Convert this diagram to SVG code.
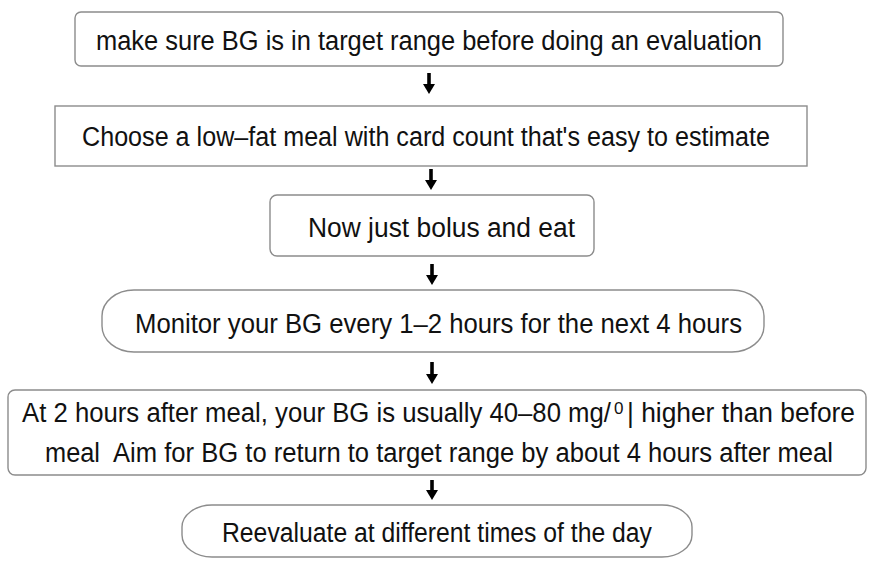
<svg xmlns="http://www.w3.org/2000/svg" width="873" height="561" viewBox="0 0 873 561">
<style>
.box{fill:#ffffff;stroke:#8c8c8c;stroke-width:1.4}
.t{font-family:"Liberation Sans",Arial,sans-serif;font-size:27px;fill:#111111}
.sup{font-family:"Liberation Sans",Arial,sans-serif;font-size:17px;fill:#111111}
.shaft{stroke:#000000;stroke-width:3.6;fill:none}
.head{fill:#000000}
</style>
<rect width="873" height="561" fill="#ffffff"/>
<g id="connectors">
<line class="shaft" x1="429" y1="73" x2="429" y2="86"/>
<path class="head" d="M423,84 L435,84 L429,94 Z"/>
<line class="shaft" x1="431" y1="169" x2="431" y2="182"/>
<path class="head" d="M425,180 L437,180 L431,190 Z"/>
<line class="shaft" x1="432" y1="264" x2="432" y2="277"/>
<path class="head" d="M426,275 L438,275 L432,285 Z"/>
<line class="shaft" x1="432" y1="362" x2="432" y2="376"/>
<path class="head" d="M426,374 L438,374 L432,384 Z"/>
<line class="shaft" x1="432" y1="480" x2="432" y2="492"/>
<path class="head" d="M426,490 L438,490 L432,500 Z"/>
</g>
<g id="n1">
<rect class="box" x="75" y="12" width="708" height="54" rx="6"/>
<text class="t" x="96" y="50" textLength="666" lengthAdjust="spacingAndGlyphs">make sure BG is in target range before doing an evaluation</text>
</g>
<g id="n2">
<rect class="box" x="55" y="106" width="752" height="60"/>
<text class="t" x="82" y="146" textLength="688" lengthAdjust="spacingAndGlyphs">Choose a low–fat meal with card count that's easy to estimate</text>
</g>
<g id="n3">
<rect class="box" x="270" y="195" width="324" height="61" rx="7"/>
<text class="t" x="308" y="237" textLength="267" lengthAdjust="spacingAndGlyphs">Now just bolus and eat</text>
</g>
<g id="n4">
<rect class="box" x="102" y="290" width="662" height="62" rx="32" ry="26"/>
<text class="t" x="135" y="333" textLength="607" lengthAdjust="spacingAndGlyphs">Monitor your BG every 1–2 hours for the next 4 hours</text>
</g>
<g id="n5">
<rect class="box" x="8" y="390" width="858" height="85" rx="7"/>
<text class="t" x="22" y="422" textLength="589" lengthAdjust="spacingAndGlyphs">At 2 hours after meal, your BG is usually 40–80 mg/</text>
<text class="sup" x="614" y="414">0</text>
<text class="t" x="627" y="422" textLength="228" lengthAdjust="spacingAndGlyphs">| higher than before</text>
<text class="t" x="45" y="462" textLength="55" lengthAdjust="spacingAndGlyphs">meal</text>
<text class="t" x="113" y="462" textLength="720" lengthAdjust="spacingAndGlyphs">Aim for BG to return to target range by about 4 hours after meal</text>
</g>
<g id="n6">
<rect class="box" x="182" y="505" width="510" height="52" rx="30" ry="22"/>
<text class="t" x="222" y="542" textLength="430" lengthAdjust="spacingAndGlyphs">Reevaluate at different times of the day</text>
</g>
</svg>
